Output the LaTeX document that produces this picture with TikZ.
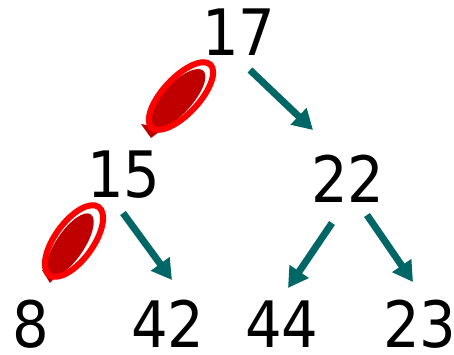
\documentclass[tikz,border=0pt]{standalone}
\usepackage{fontspec}
\setmainfont{DejaVu Sans Condensed}
\usetikzlibrary{arrows.meta}
\definecolor{arrowteal}{RGB}{0,102,102}
\definecolor{scribdark}{RGB}{192,0,0}
\definecolor{scribred}{RGB}{255,0,0}
\begin{document}
\begin{tikzpicture}[x=1pt,y=-1pt,
  num/.style={font=\fontsize{64}{64}\selectfont, inner sep=0pt, anchor=base, text depth=0pt},
  arr/.style={draw=arrowteal, line width=7pt, -{Triangle[width=22pt,length=20pt]}},
  loop/.style={draw=scribred, line width=6pt},
  fillmark/.style={fill=scribdark}]
\useasboundingbox (0,0) rectangle (454,354);
\node[num] (n17) at (239,55) {17};
\node[num] (n15) at (124,197) {15};
\node[num] (n22) at (348,202) {22};
\node[num] (n8) at (31,347) {8};
\node[num] (n42) at (168,347) {42};
\node[num] (n44) at (282,347) {44};
\node[num] (n23) at (420,347) {23};
% arrow ends
\coordinate (a1s) at (250,70);  \coordinate (a1e) at (313,130);
\coordinate (a2s) at (123,213); \coordinate (a2e) at (172,280);
\coordinate (a3s) at (332,223); \coordinate (a3e) at (288,288);
\coordinate (a4s) at (367,215); \coordinate (a4e) at (413,282);
\draw[arr] (a1s) -- (a1e);
\draw[arr] (a2s) -- (a2e);
\draw[arr] (a3s) -- (a3e);
\draw[arr] (a4s) -- (a4e);
% upper scribble
\fill[fillmark, rotate around={47:(176,100)}] (176,100) ellipse (40pt and 15pt);
\fill[fillmark] (141,124) -- (151,138) -- (164,128) -- cycle;
\draw[loop, rotate around={47:(181,96)}] (181,96) ellipse (43pt and 18pt);
% lower scribble
\fill[fillmark, rotate around={56:(70,245)}] (70,245) ellipse (37pt and 14pt);
\fill[fillmark] (42,270) -- (50,283) -- (60,272) -- cycle;
\draw[loop, rotate around={54:(74,241)}] (74,241) ellipse (42pt and 19pt);
\end{tikzpicture}
\end{document}
